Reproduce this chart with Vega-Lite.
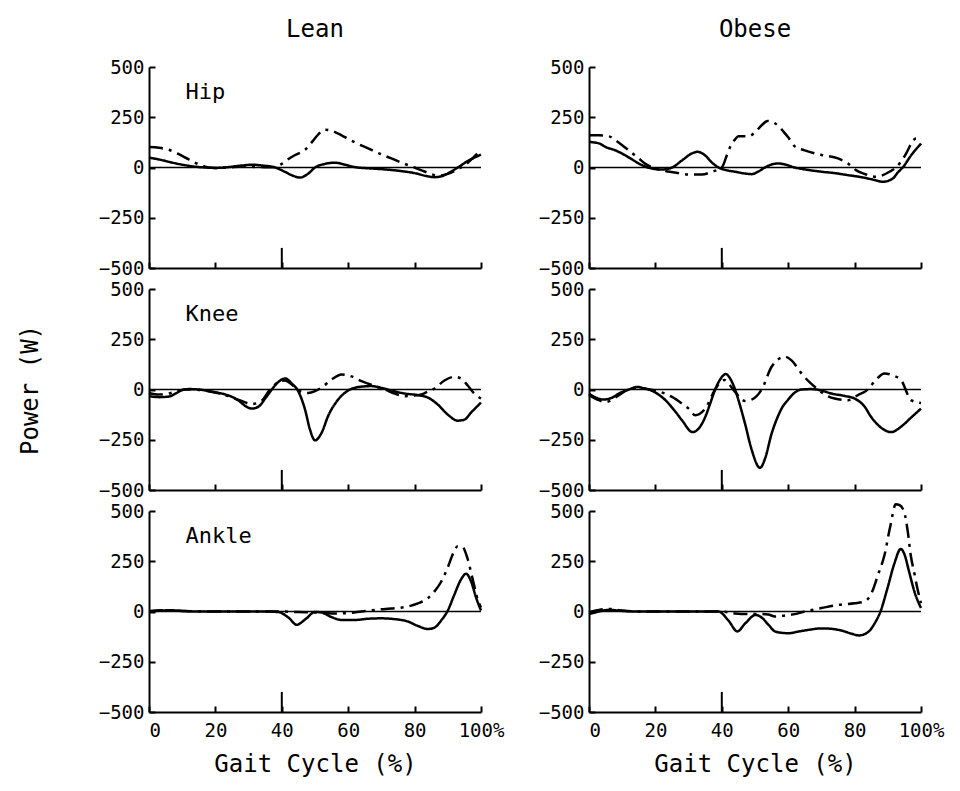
{
  "$schema": "https://vega.github.io/schema/vega-lite/v6.json",
  "background": "white",
  "padding": {"left": 18, "top": 18, "right": 5, "bottom": 5},
  "datasets": {
    "curves": [
      {"group":"Lean","joint":"Hip","series":"A","pct":0,"power":49},{"group":"Lean","joint":"Hip","series":"A","pct":3,"power":40},{"group":"Lean","joint":"Hip","series":"A","pct":6,"power":28},{"group":"Lean","joint":"Hip","series":"A","pct":10,"power":14},{"group":"Lean","joint":"Hip","series":"A","pct":14,"power":4},{"group":"Lean","joint":"Hip","series":"A","pct":17,"power":0},{"group":"Lean","joint":"Hip","series":"A","pct":20,"power":-2},{"group":"Lean","joint":"Hip","series":"A","pct":24,"power":2},{"group":"Lean","joint":"Hip","series":"A","pct":28,"power":10},{"group":"Lean","joint":"Hip","series":"A","pct":31,"power":14},{"group":"Lean","joint":"Hip","series":"A","pct":34,"power":10},{"group":"Lean","joint":"Hip","series":"A","pct":38,"power":0},{"group":"Lean","joint":"Hip","series":"A","pct":41,"power":-22},{"group":"Lean","joint":"Hip","series":"A","pct":43.5,"power":-42},{"group":"Lean","joint":"Hip","series":"A","pct":45.5,"power":-50},{"group":"Lean","joint":"Hip","series":"A","pct":48,"power":-30},{"group":"Lean","joint":"Hip","series":"A","pct":50,"power":0},{"group":"Lean","joint":"Hip","series":"A","pct":53,"power":18},{"group":"Lean","joint":"Hip","series":"A","pct":56,"power":24},{"group":"Lean","joint":"Hip","series":"A","pct":59,"power":14},{"group":"Lean","joint":"Hip","series":"A","pct":62,"power":2},{"group":"Lean","joint":"Hip","series":"A","pct":66,"power":-4},{"group":"Lean","joint":"Hip","series":"A","pct":70,"power":-8},{"group":"Lean","joint":"Hip","series":"A","pct":75,"power":-16},{"group":"Lean","joint":"Hip","series":"A","pct":80,"power":-28},{"group":"Lean","joint":"Hip","series":"A","pct":84,"power":-44},{"group":"Lean","joint":"Hip","series":"A","pct":86,"power":-48},{"group":"Lean","joint":"Hip","series":"A","pct":88,"power":-44},{"group":"Lean","joint":"Hip","series":"A","pct":91,"power":-20},{"group":"Lean","joint":"Hip","series":"A","pct":93,"power":0},{"group":"Lean","joint":"Hip","series":"A","pct":96,"power":32},{"group":"Lean","joint":"Hip","series":"A","pct":100,"power":64},
      {"group":"Lean","joint":"Hip","series":"B","pct":0,"power":102},{"group":"Lean","joint":"Hip","series":"B","pct":3,"power":98},{"group":"Lean","joint":"Hip","series":"B","pct":6,"power":88},{"group":"Lean","joint":"Hip","series":"B","pct":9,"power":66},{"group":"Lean","joint":"Hip","series":"B","pct":12,"power":40},{"group":"Lean","joint":"Hip","series":"B","pct":15,"power":16},{"group":"Lean","joint":"Hip","series":"B","pct":17.5,"power":2},{"group":"Lean","joint":"Hip","series":"B","pct":20,"power":-3},{"group":"Lean","joint":"Hip","series":"B","pct":24,"power":0},{"group":"Lean","joint":"Hip","series":"B","pct":28,"power":5},{"group":"Lean","joint":"Hip","series":"B","pct":32,"power":3},{"group":"Lean","joint":"Hip","series":"B","pct":36,"power":1},{"group":"Lean","joint":"Hip","series":"B","pct":38,"power":2},{"group":"Lean","joint":"Hip","series":"B","pct":40,"power":18},{"group":"Lean","joint":"Hip","series":"B","pct":42,"power":42},{"group":"Lean","joint":"Hip","series":"B","pct":44,"power":62},{"group":"Lean","joint":"Hip","series":"B","pct":47,"power":88},{"group":"Lean","joint":"Hip","series":"B","pct":49,"power":125},{"group":"Lean","joint":"Hip","series":"B","pct":51,"power":165},{"group":"Lean","joint":"Hip","series":"B","pct":53,"power":188},{"group":"Lean","joint":"Hip","series":"B","pct":55,"power":183},{"group":"Lean","joint":"Hip","series":"B","pct":58,"power":160},{"group":"Lean","joint":"Hip","series":"B","pct":62,"power":125},{"group":"Lean","joint":"Hip","series":"B","pct":66,"power":95},{"group":"Lean","joint":"Hip","series":"B","pct":70,"power":65},{"group":"Lean","joint":"Hip","series":"B","pct":73,"power":45},{"group":"Lean","joint":"Hip","series":"B","pct":77,"power":18},{"group":"Lean","joint":"Hip","series":"B","pct":80,"power":0},{"group":"Lean","joint":"Hip","series":"B","pct":83,"power":-20},{"group":"Lean","joint":"Hip","series":"B","pct":87,"power":-40},{"group":"Lean","joint":"Hip","series":"B","pct":90,"power":-32},{"group":"Lean","joint":"Hip","series":"B","pct":93,"power":-8},{"group":"Lean","joint":"Hip","series":"B","pct":95,"power":10},{"group":"Lean","joint":"Hip","series":"B","pct":98,"power":55},{"group":"Lean","joint":"Hip","series":"B","pct":100,"power":88},
      {"group":"Lean","joint":"Knee","series":"A","pct":0,"power":-33},{"group":"Lean","joint":"Knee","series":"A","pct":3,"power":-38},{"group":"Lean","joint":"Knee","series":"A","pct":6,"power":-35},{"group":"Lean","joint":"Knee","series":"A","pct":8,"power":-20},{"group":"Lean","joint":"Knee","series":"A","pct":10,"power":-3},{"group":"Lean","joint":"Knee","series":"A","pct":12,"power":2},{"group":"Lean","joint":"Knee","series":"A","pct":15,"power":0},{"group":"Lean","joint":"Knee","series":"A","pct":18,"power":-8},{"group":"Lean","joint":"Knee","series":"A","pct":21,"power":-17},{"group":"Lean","joint":"Knee","series":"A","pct":24,"power":-30},{"group":"Lean","joint":"Knee","series":"A","pct":27,"power":-55},{"group":"Lean","joint":"Knee","series":"A","pct":29,"power":-82},{"group":"Lean","joint":"Knee","series":"A","pct":31,"power":-95},{"group":"Lean","joint":"Knee","series":"A","pct":33,"power":-85},{"group":"Lean","joint":"Knee","series":"A","pct":35,"power":-45},{"group":"Lean","joint":"Knee","series":"A","pct":37,"power":0},{"group":"Lean","joint":"Knee","series":"A","pct":39,"power":38},{"group":"Lean","joint":"Knee","series":"A","pct":41,"power":55},{"group":"Lean","joint":"Knee","series":"A","pct":43,"power":30},{"group":"Lean","joint":"Knee","series":"A","pct":45,"power":-10},{"group":"Lean","joint":"Knee","series":"A","pct":47,"power":-100},{"group":"Lean","joint":"Knee","series":"A","pct":48.5,"power":-200},{"group":"Lean","joint":"Knee","series":"A","pct":50,"power":-253},{"group":"Lean","joint":"Knee","series":"A","pct":52,"power":-215},{"group":"Lean","joint":"Knee","series":"A","pct":54,"power":-130},{"group":"Lean","joint":"Knee","series":"A","pct":56.5,"power":-60},{"group":"Lean","joint":"Knee","series":"A","pct":60,"power":-5},{"group":"Lean","joint":"Knee","series":"A","pct":63,"power":12},{"group":"Lean","joint":"Knee","series":"A","pct":67,"power":17},{"group":"Lean","joint":"Knee","series":"A","pct":70,"power":8},{"group":"Lean","joint":"Knee","series":"A","pct":73,"power":-5},{"group":"Lean","joint":"Knee","series":"A","pct":77,"power":-20},{"group":"Lean","joint":"Knee","series":"A","pct":81,"power":-28},{"group":"Lean","joint":"Knee","series":"A","pct":84,"power":-40},{"group":"Lean","joint":"Knee","series":"A","pct":87,"power":-75},{"group":"Lean","joint":"Knee","series":"A","pct":90,"power":-125},{"group":"Lean","joint":"Knee","series":"A","pct":93,"power":-155},{"group":"Lean","joint":"Knee","series":"A","pct":95,"power":-150},{"group":"Lean","joint":"Knee","series":"A","pct":97,"power":-115},{"group":"Lean","joint":"Knee","series":"A","pct":100,"power":-65},
      {"group":"Lean","joint":"Knee","series":"B","pct":0,"power":-17},{"group":"Lean","joint":"Knee","series":"B","pct":3,"power":-25},{"group":"Lean","joint":"Knee","series":"B","pct":6,"power":-20},{"group":"Lean","joint":"Knee","series":"B","pct":9,"power":-5},{"group":"Lean","joint":"Knee","series":"B","pct":11,"power":0},{"group":"Lean","joint":"Knee","series":"B","pct":15,"power":-2},{"group":"Lean","joint":"Knee","series":"B","pct":19,"power":-12},{"group":"Lean","joint":"Knee","series":"B","pct":23,"power":-28},{"group":"Lean","joint":"Knee","series":"B","pct":27,"power":-52},{"group":"Lean","joint":"Knee","series":"B","pct":31,"power":-72},{"group":"Lean","joint":"Knee","series":"B","pct":34,"power":-55},{"group":"Lean","joint":"Knee","series":"B","pct":36,"power":-10},{"group":"Lean","joint":"Knee","series":"B","pct":38,"power":25},{"group":"Lean","joint":"Knee","series":"B","pct":41,"power":45},{"group":"Lean","joint":"Knee","series":"B","pct":43,"power":25},{"group":"Lean","joint":"Knee","series":"B","pct":45,"power":-5},{"group":"Lean","joint":"Knee","series":"B","pct":48,"power":-17},{"group":"Lean","joint":"Knee","series":"B","pct":50,"power":-8},{"group":"Lean","joint":"Knee","series":"B","pct":52,"power":10},{"group":"Lean","joint":"Knee","series":"B","pct":55,"power":50},{"group":"Lean","joint":"Knee","series":"B","pct":58,"power":75},{"group":"Lean","joint":"Knee","series":"B","pct":61,"power":65},{"group":"Lean","joint":"Knee","series":"B","pct":64,"power":42},{"group":"Lean","joint":"Knee","series":"B","pct":68,"power":17},{"group":"Lean","joint":"Knee","series":"B","pct":71,"power":0},{"group":"Lean","joint":"Knee","series":"B","pct":74,"power":-20},{"group":"Lean","joint":"Knee","series":"B","pct":77,"power":-33},{"group":"Lean","joint":"Knee","series":"B","pct":80,"power":-30},{"group":"Lean","joint":"Knee","series":"B","pct":82,"power":-25},{"group":"Lean","joint":"Knee","series":"B","pct":84,"power":-10},{"group":"Lean","joint":"Knee","series":"B","pct":86,"power":5},{"group":"Lean","joint":"Knee","series":"B","pct":89,"power":45},{"group":"Lean","joint":"Knee","series":"B","pct":92,"power":63},{"group":"Lean","joint":"Knee","series":"B","pct":94,"power":55},{"group":"Lean","joint":"Knee","series":"B","pct":96,"power":20},{"group":"Lean","joint":"Knee","series":"B","pct":98,"power":-20},{"group":"Lean","joint":"Knee","series":"B","pct":100,"power":-45},
      {"group":"Lean","joint":"Ankle","series":"A","pct":0,"power":0},{"group":"Lean","joint":"Ankle","series":"A","pct":4,"power":5},{"group":"Lean","joint":"Ankle","series":"A","pct":7,"power":6},{"group":"Lean","joint":"Ankle","series":"A","pct":10,"power":3},{"group":"Lean","joint":"Ankle","series":"A","pct":15,"power":0},{"group":"Lean","joint":"Ankle","series":"A","pct":25,"power":0},{"group":"Lean","joint":"Ankle","series":"A","pct":35,"power":0},{"group":"Lean","joint":"Ankle","series":"A","pct":39,"power":-3},{"group":"Lean","joint":"Ankle","series":"A","pct":42,"power":-30},{"group":"Lean","joint":"Ankle","series":"A","pct":44.5,"power":-66},{"group":"Lean","joint":"Ankle","series":"A","pct":47,"power":-40},{"group":"Lean","joint":"Ankle","series":"A","pct":50,"power":-2},{"group":"Lean","joint":"Ankle","series":"A","pct":52,"power":-5},{"group":"Lean","joint":"Ankle","series":"A","pct":55,"power":-28},{"group":"Lean","joint":"Ankle","series":"A","pct":58,"power":-42},{"group":"Lean","joint":"Ankle","series":"A","pct":62,"power":-42},{"group":"Lean","joint":"Ankle","series":"A","pct":66,"power":-36},{"group":"Lean","joint":"Ankle","series":"A","pct":70,"power":-34},{"group":"Lean","joint":"Ankle","series":"A","pct":74,"power":-38},{"group":"Lean","joint":"Ankle","series":"A","pct":78,"power":-50},{"group":"Lean","joint":"Ankle","series":"A","pct":81,"power":-72},{"group":"Lean","joint":"Ankle","series":"A","pct":84,"power":-87},{"group":"Lean","joint":"Ankle","series":"A","pct":86,"power":-80},{"group":"Lean","joint":"Ankle","series":"A","pct":88,"power":-45},{"group":"Lean","joint":"Ankle","series":"A","pct":90,"power":5},{"group":"Lean","joint":"Ankle","series":"A","pct":92,"power":85},{"group":"Lean","joint":"Ankle","series":"A","pct":94,"power":160},{"group":"Lean","joint":"Ankle","series":"A","pct":95.5,"power":188},{"group":"Lean","joint":"Ankle","series":"A","pct":97,"power":150},{"group":"Lean","joint":"Ankle","series":"A","pct":98.5,"power":70},{"group":"Lean","joint":"Ankle","series":"A","pct":100,"power":5},
      {"group":"Lean","joint":"Ankle","series":"B","pct":0,"power":2},{"group":"Lean","joint":"Ankle","series":"B","pct":5,"power":6},{"group":"Lean","joint":"Ankle","series":"B","pct":10,"power":3},{"group":"Lean","joint":"Ankle","series":"B","pct":20,"power":0},{"group":"Lean","joint":"Ankle","series":"B","pct":30,"power":0},{"group":"Lean","joint":"Ankle","series":"B","pct":40,"power":0},{"group":"Lean","joint":"Ankle","series":"B","pct":45,"power":-3},{"group":"Lean","joint":"Ankle","series":"B","pct":50,"power":-5},{"group":"Lean","joint":"Ankle","series":"B","pct":55,"power":-10},{"group":"Lean","joint":"Ankle","series":"B","pct":60,"power":-8},{"group":"Lean","joint":"Ankle","series":"B","pct":64,"power":0},{"group":"Lean","joint":"Ankle","series":"B","pct":68,"power":8},{"group":"Lean","joint":"Ankle","series":"B","pct":73,"power":15},{"group":"Lean","joint":"Ankle","series":"B","pct":78,"power":25},{"group":"Lean","joint":"Ankle","series":"B","pct":81,"power":40},{"group":"Lean","joint":"Ankle","series":"B","pct":84,"power":66},{"group":"Lean","joint":"Ankle","series":"B","pct":86,"power":100},{"group":"Lean","joint":"Ankle","series":"B","pct":88,"power":148},{"group":"Lean","joint":"Ankle","series":"B","pct":90,"power":220},{"group":"Lean","joint":"Ankle","series":"B","pct":91.5,"power":285},{"group":"Lean","joint":"Ankle","series":"B","pct":93,"power":325},{"group":"Lean","joint":"Ankle","series":"B","pct":94.5,"power":320},{"group":"Lean","joint":"Ankle","series":"B","pct":96,"power":260},{"group":"Lean","joint":"Ankle","series":"B","pct":97.5,"power":160},{"group":"Lean","joint":"Ankle","series":"B","pct":99,"power":60},{"group":"Lean","joint":"Ankle","series":"B","pct":100,"power":20},
      {"group":"Obese","joint":"Hip","series":"A","pct":0,"power":127},{"group":"Obese","joint":"Hip","series":"A","pct":3,"power":120},{"group":"Obese","joint":"Hip","series":"A","pct":5,"power":102},{"group":"Obese","joint":"Hip","series":"A","pct":8,"power":85},{"group":"Obese","joint":"Hip","series":"A","pct":10,"power":69},{"group":"Obese","joint":"Hip","series":"A","pct":13,"power":40},{"group":"Obese","joint":"Hip","series":"A","pct":15,"power":20},{"group":"Obese","joint":"Hip","series":"A","pct":17.7,"power":0},{"group":"Obese","joint":"Hip","series":"A","pct":20,"power":-8},{"group":"Obese","joint":"Hip","series":"A","pct":22,"power":-10},{"group":"Obese","joint":"Hip","series":"A","pct":25,"power":0},{"group":"Obese","joint":"Hip","series":"A","pct":28,"power":35},{"group":"Obese","joint":"Hip","series":"A","pct":31,"power":70},{"group":"Obese","joint":"Hip","series":"A","pct":32.7,"power":78},{"group":"Obese","joint":"Hip","series":"A","pct":35,"power":60},{"group":"Obese","joint":"Hip","series":"A","pct":37,"power":25},{"group":"Obese","joint":"Hip","series":"A","pct":39,"power":0},{"group":"Obese","joint":"Hip","series":"A","pct":41,"power":-12},{"group":"Obese","joint":"Hip","series":"A","pct":44,"power":-21},{"group":"Obese","joint":"Hip","series":"A","pct":47,"power":-30},{"group":"Obese","joint":"Hip","series":"A","pct":49,"power":-33},{"group":"Obese","joint":"Hip","series":"A","pct":51,"power":-20},{"group":"Obese","joint":"Hip","series":"A","pct":53,"power":0},{"group":"Obese","joint":"Hip","series":"A","pct":55,"power":15},{"group":"Obese","joint":"Hip","series":"A","pct":57,"power":20},{"group":"Obese","joint":"Hip","series":"A","pct":59,"power":15},{"group":"Obese","joint":"Hip","series":"A","pct":62,"power":0},{"group":"Obese","joint":"Hip","series":"A","pct":66,"power":-12},{"group":"Obese","joint":"Hip","series":"A","pct":70,"power":-21},{"group":"Obese","joint":"Hip","series":"A","pct":74,"power":-28},{"group":"Obese","joint":"Hip","series":"A","pct":78,"power":-38},{"group":"Obese","joint":"Hip","series":"A","pct":82,"power":-48},{"group":"Obese","joint":"Hip","series":"A","pct":86,"power":-62},{"group":"Obese","joint":"Hip","series":"A","pct":88.5,"power":-71},{"group":"Obese","joint":"Hip","series":"A","pct":91.5,"power":-55},{"group":"Obese","joint":"Hip","series":"A","pct":93,"power":-25},{"group":"Obese","joint":"Hip","series":"A","pct":94.5,"power":0},{"group":"Obese","joint":"Hip","series":"A","pct":97,"power":60},{"group":"Obese","joint":"Hip","series":"A","pct":100,"power":119},
      {"group":"Obese","joint":"Hip","series":"B","pct":0,"power":160},{"group":"Obese","joint":"Hip","series":"B","pct":3,"power":160},{"group":"Obese","joint":"Hip","series":"B","pct":6,"power":155},{"group":"Obese","joint":"Hip","series":"B","pct":8,"power":135},{"group":"Obese","joint":"Hip","series":"B","pct":10,"power":111},{"group":"Obese","joint":"Hip","series":"B","pct":12,"power":85},{"group":"Obese","joint":"Hip","series":"B","pct":15,"power":45},{"group":"Obese","joint":"Hip","series":"B","pct":17,"power":18},{"group":"Obese","joint":"Hip","series":"B","pct":19,"power":0},{"group":"Obese","joint":"Hip","series":"B","pct":23,"power":-17},{"group":"Obese","joint":"Hip","series":"B","pct":27,"power":-28},{"group":"Obese","joint":"Hip","series":"B","pct":30,"power":-35},{"group":"Obese","joint":"Hip","series":"B","pct":34,"power":-35},{"group":"Obese","joint":"Hip","series":"B","pct":37,"power":-21},{"group":"Obese","joint":"Hip","series":"B","pct":40,"power":0},{"group":"Obese","joint":"Hip","series":"B","pct":41.5,"power":60},{"group":"Obese","joint":"Hip","series":"B","pct":42.5,"power":102},{"group":"Obese","joint":"Hip","series":"B","pct":44,"power":140},{"group":"Obese","joint":"Hip","series":"B","pct":45,"power":155},{"group":"Obese","joint":"Hip","series":"B","pct":48,"power":155},{"group":"Obese","joint":"Hip","series":"B","pct":50,"power":175},{"group":"Obese","joint":"Hip","series":"B","pct":52,"power":210},{"group":"Obese","joint":"Hip","series":"B","pct":53.8,"power":231},{"group":"Obese","joint":"Hip","series":"B","pct":56,"power":220},{"group":"Obese","joint":"Hip","series":"B","pct":58,"power":190},{"group":"Obese","joint":"Hip","series":"B","pct":60,"power":150},{"group":"Obese","joint":"Hip","series":"B","pct":62,"power":105},{"group":"Obese","joint":"Hip","series":"B","pct":65,"power":85},{"group":"Obese","joint":"Hip","series":"B","pct":68,"power":70},{"group":"Obese","joint":"Hip","series":"B","pct":70.4,"power":61},{"group":"Obese","joint":"Hip","series":"B","pct":75,"power":45},{"group":"Obese","joint":"Hip","series":"B","pct":78,"power":20},{"group":"Obese","joint":"Hip","series":"B","pct":80.4,"power":-13},{"group":"Obese","joint":"Hip","series":"B","pct":83,"power":-32},{"group":"Obese","joint":"Hip","series":"B","pct":86.4,"power":-46},{"group":"Obese","joint":"Hip","series":"B","pct":88.5,"power":-38},{"group":"Obese","joint":"Hip","series":"B","pct":90.5,"power":-21},{"group":"Obese","joint":"Hip","series":"B","pct":92.5,"power":0},{"group":"Obese","joint":"Hip","series":"B","pct":95,"power":55},{"group":"Obese","joint":"Hip","series":"B","pct":98.5,"power":144},{"group":"Obese","joint":"Hip","series":"B","pct":100,"power":130},
      {"group":"Obese","joint":"Knee","series":"A","pct":0,"power":-20},{"group":"Obese","joint":"Knee","series":"A","pct":2,"power":-40},{"group":"Obese","joint":"Knee","series":"A","pct":4.5,"power":-50},{"group":"Obese","joint":"Knee","series":"A","pct":7,"power":-40},{"group":"Obese","joint":"Knee","series":"A","pct":9,"power":-20},{"group":"Obese","joint":"Knee","series":"A","pct":12,"power":0},{"group":"Obese","joint":"Knee","series":"A","pct":14.6,"power":13},{"group":"Obese","joint":"Knee","series":"A","pct":16,"power":8},{"group":"Obese","joint":"Knee","series":"A","pct":18,"power":0},{"group":"Obese","joint":"Knee","series":"A","pct":20,"power":-15},{"group":"Obese","joint":"Knee","series":"A","pct":23,"power":-53},{"group":"Obese","joint":"Knee","series":"A","pct":26,"power":-110},{"group":"Obese","joint":"Knee","series":"A","pct":28,"power":-153},{"group":"Obese","joint":"Knee","series":"A","pct":31.2,"power":-212},{"group":"Obese","joint":"Knee","series":"A","pct":33,"power":-195},{"group":"Obese","joint":"Knee","series":"A","pct":35,"power":-137},{"group":"Obese","joint":"Knee","series":"A","pct":36.5,"power":-70},{"group":"Obese","joint":"Knee","series":"A","pct":38,"power":0},{"group":"Obese","joint":"Knee","series":"A","pct":39.5,"power":50},{"group":"Obese","joint":"Knee","series":"A","pct":41.2,"power":77},{"group":"Obese","joint":"Knee","series":"A","pct":42.5,"power":55},{"group":"Obese","joint":"Knee","series":"A","pct":44,"power":0},{"group":"Obese","joint":"Knee","series":"A","pct":45.5,"power":-80},{"group":"Obese","joint":"Knee","series":"A","pct":47,"power":-170},{"group":"Obese","joint":"Knee","series":"A","pct":49,"power":-300},{"group":"Obese","joint":"Knee","series":"A","pct":51.5,"power":-390},{"group":"Obese","joint":"Knee","series":"A","pct":53,"power":-345},{"group":"Obese","joint":"Knee","series":"A","pct":55,"power":-220},{"group":"Obese","joint":"Knee","series":"A","pct":57,"power":-130},{"group":"Obese","joint":"Knee","series":"A","pct":58,"power":-95},{"group":"Obese","joint":"Knee","series":"A","pct":60,"power":-50},{"group":"Obese","joint":"Knee","series":"A","pct":62,"power":-15},{"group":"Obese","joint":"Knee","series":"A","pct":64,"power":0},{"group":"Obese","joint":"Knee","series":"A","pct":67,"power":2},{"group":"Obese","joint":"Knee","series":"A","pct":70,"power":-5},{"group":"Obese","joint":"Knee","series":"A","pct":73,"power":-20},{"group":"Obese","joint":"Knee","series":"A","pct":77,"power":-32},{"group":"Obese","joint":"Knee","series":"A","pct":80,"power":-45},{"group":"Obese","joint":"Knee","series":"A","pct":83,"power":-85},{"group":"Obese","joint":"Knee","series":"A","pct":85,"power":-137},{"group":"Obese","joint":"Knee","series":"A","pct":88,"power":-190},{"group":"Obese","joint":"Knee","series":"A","pct":91,"power":-212},{"group":"Obese","joint":"Knee","series":"A","pct":94,"power":-185},{"group":"Obese","joint":"Knee","series":"A","pct":97,"power":-140},{"group":"Obese","joint":"Knee","series":"A","pct":100,"power":-95},
      {"group":"Obese","joint":"Knee","series":"B","pct":0,"power":-28},{"group":"Obese","joint":"Knee","series":"B","pct":2.5,"power":-50},{"group":"Obese","joint":"Knee","series":"B","pct":5,"power":-62},{"group":"Obese","joint":"Knee","series":"B","pct":7,"power":-50},{"group":"Obese","joint":"Knee","series":"B","pct":9,"power":-28},{"group":"Obese","joint":"Knee","series":"B","pct":12,"power":0},{"group":"Obese","joint":"Knee","series":"B","pct":15,"power":5},{"group":"Obese","joint":"Knee","series":"B","pct":20,"power":-5},{"group":"Obese","joint":"Knee","series":"B","pct":25,"power":-37},{"group":"Obese","joint":"Knee","series":"B","pct":28,"power":-70},{"group":"Obese","joint":"Knee","series":"B","pct":30,"power":-95},{"group":"Obese","joint":"Knee","series":"B","pct":32,"power":-128},{"group":"Obese","joint":"Knee","series":"B","pct":35,"power":-95},{"group":"Obese","joint":"Knee","series":"B","pct":38,"power":0},{"group":"Obese","joint":"Knee","series":"B","pct":39.5,"power":35},{"group":"Obese","joint":"Knee","series":"B","pct":40.8,"power":47},{"group":"Obese","joint":"Knee","series":"B","pct":42.5,"power":20},{"group":"Obese","joint":"Knee","series":"B","pct":44,"power":-12},{"group":"Obese","joint":"Knee","series":"B","pct":47,"power":-57},{"group":"Obese","joint":"Knee","series":"B","pct":49,"power":-50},{"group":"Obese","joint":"Knee","series":"B","pct":52,"power":0},{"group":"Obese","joint":"Knee","series":"B","pct":55,"power":113},{"group":"Obese","joint":"Knee","series":"B","pct":57,"power":150},{"group":"Obese","joint":"Knee","series":"B","pct":59,"power":163},{"group":"Obese","joint":"Knee","series":"B","pct":61,"power":145},{"group":"Obese","joint":"Knee","series":"B","pct":64,"power":80},{"group":"Obese","joint":"Knee","series":"B","pct":66.5,"power":35},{"group":"Obese","joint":"Knee","series":"B","pct":69,"power":0},{"group":"Obese","joint":"Knee","series":"B","pct":71,"power":-25},{"group":"Obese","joint":"Knee","series":"B","pct":74,"power":-45},{"group":"Obese","joint":"Knee","series":"B","pct":78,"power":-53},{"group":"Obese","joint":"Knee","series":"B","pct":81,"power":-28},{"group":"Obese","joint":"Knee","series":"B","pct":84,"power":0},{"group":"Obese","joint":"Knee","series":"B","pct":86.5,"power":50},{"group":"Obese","joint":"Knee","series":"B","pct":89,"power":80},{"group":"Obese","joint":"Knee","series":"B","pct":91.5,"power":70},{"group":"Obese","joint":"Knee","series":"B","pct":94,"power":47},{"group":"Obese","joint":"Knee","series":"B","pct":97,"power":-53},{"group":"Obese","joint":"Knee","series":"B","pct":100,"power":-67},
      {"group":"Obese","joint":"Ankle","series":"A","pct":0,"power":-13},{"group":"Obese","joint":"Ankle","series":"A","pct":3,"power":0},{"group":"Obese","joint":"Ankle","series":"A","pct":6,"power":8},{"group":"Obese","joint":"Ankle","series":"A","pct":10,"power":3},{"group":"Obese","joint":"Ankle","series":"A","pct":15,"power":0},{"group":"Obese","joint":"Ankle","series":"A","pct":25,"power":0},{"group":"Obese","joint":"Ankle","series":"A","pct":35,"power":0},{"group":"Obese","joint":"Ankle","series":"A","pct":39,"power":0},{"group":"Obese","joint":"Ankle","series":"A","pct":42,"power":-45},{"group":"Obese","joint":"Ankle","series":"A","pct":44.7,"power":-99},{"group":"Obese","joint":"Ankle","series":"A","pct":47,"power":-60},{"group":"Obese","joint":"Ankle","series":"A","pct":50.2,"power":-17},{"group":"Obese","joint":"Ankle","series":"A","pct":52,"power":-30},{"group":"Obese","joint":"Ankle","series":"A","pct":54,"power":-65},{"group":"Obese","joint":"Ankle","series":"A","pct":56,"power":-99},{"group":"Obese","joint":"Ankle","series":"A","pct":58,"power":-106},{"group":"Obese","joint":"Ankle","series":"A","pct":60.2,"power":-108},{"group":"Obese","joint":"Ankle","series":"A","pct":63,"power":-100},{"group":"Obese","joint":"Ankle","series":"A","pct":66.3,"power":-91},{"group":"Obese","joint":"Ankle","series":"A","pct":70,"power":-84},{"group":"Obese","joint":"Ankle","series":"A","pct":73,"power":-86},{"group":"Obese","joint":"Ankle","series":"A","pct":76.3,"power":-96},{"group":"Obese","joint":"Ankle","series":"A","pct":79,"power":-110},{"group":"Obese","joint":"Ankle","series":"A","pct":81.3,"power":-119},{"group":"Obese","joint":"Ankle","series":"A","pct":84.3,"power":-99},{"group":"Obese","joint":"Ankle","series":"A","pct":86,"power":-60},{"group":"Obese","joint":"Ankle","series":"A","pct":87.8,"power":0},{"group":"Obese","joint":"Ankle","series":"A","pct":89.9,"power":116},{"group":"Obese","joint":"Ankle","series":"A","pct":92,"power":240},{"group":"Obese","joint":"Ankle","series":"A","pct":93.9,"power":311},{"group":"Obese","joint":"Ankle","series":"A","pct":95,"power":285},{"group":"Obese","joint":"Ankle","series":"A","pct":96.4,"power":199},{"group":"Obese","joint":"Ankle","series":"A","pct":98,"power":100},{"group":"Obese","joint":"Ankle","series":"A","pct":100,"power":17},
      {"group":"Obese","joint":"Ankle","series":"B","pct":0,"power":-3},{"group":"Obese","joint":"Ankle","series":"B","pct":3,"power":8},{"group":"Obese","joint":"Ankle","series":"B","pct":6,"power":13},{"group":"Obese","joint":"Ankle","series":"B","pct":10,"power":5},{"group":"Obese","joint":"Ankle","series":"B","pct":15,"power":0},{"group":"Obese","joint":"Ankle","series":"B","pct":25,"power":0},{"group":"Obese","joint":"Ankle","series":"B","pct":35,"power":0},{"group":"Obese","joint":"Ankle","series":"B","pct":40,"power":0},{"group":"Obese","joint":"Ankle","series":"B","pct":44,"power":-10},{"group":"Obese","joint":"Ankle","series":"B","pct":48,"power":-13},{"group":"Obese","joint":"Ankle","series":"B","pct":52,"power":-13},{"group":"Obese","joint":"Ankle","series":"B","pct":54,"power":-15},{"group":"Obese","joint":"Ankle","series":"B","pct":56,"power":-25},{"group":"Obese","joint":"Ankle","series":"B","pct":59,"power":-20},{"group":"Obese","joint":"Ankle","series":"B","pct":62,"power":-13},{"group":"Obese","joint":"Ankle","series":"B","pct":65,"power":0},{"group":"Obese","joint":"Ankle","series":"B","pct":70,"power":17},{"group":"Obese","joint":"Ankle","series":"B","pct":75,"power":33},{"group":"Obese","joint":"Ankle","series":"B","pct":80,"power":41},{"group":"Obese","joint":"Ankle","series":"B","pct":83,"power":50},{"group":"Obese","joint":"Ankle","series":"B","pct":85.3,"power":99},{"group":"Obese","joint":"Ankle","series":"B","pct":87,"power":180},{"group":"Obese","joint":"Ankle","series":"B","pct":89,"power":281},{"group":"Obese","joint":"Ankle","series":"B","pct":90.7,"power":420},{"group":"Obese","joint":"Ankle","series":"B","pct":92.4,"power":533},{"group":"Obese","joint":"Ankle","series":"B","pct":93.5,"power":530},{"group":"Obese","joint":"Ankle","series":"B","pct":94.9,"power":497},{"group":"Obese","joint":"Ankle","series":"B","pct":96,"power":400},{"group":"Obese","joint":"Ankle","series":"B","pct":96.9,"power":281},{"group":"Obese","joint":"Ankle","series":"B","pct":98,"power":190},{"group":"Obese","joint":"Ankle","series":"B","pct":98.9,"power":116},{"group":"Obese","joint":"Ankle","series":"B","pct":100,"power":41}
    ]
  },
  "columns": 2,
  "bounds": "flush",
  "spacing": {"row": 21, "column": 108},
  "concat": [
    {
      "width": 332, "height": 201,
      "title": {"text": "Lean"},
      "layer": [
        {"data": {"values": [{}]}, "mark": {"type": "rule", "color": "black", "strokeWidth": 1.5}, "encoding": {"y": {"datum": 0, "type": "quantitative"}}},
        {"data": {"values": [{}]}, "mark": {"type": "rule", "color": "black", "strokeWidth": 2}, "encoding": {"x": {"datum": 40, "type": "quantitative"}, "y": {"datum": -500, "type": "quantitative"}, "y2": {"datum": -400}}},
        {"data": {"name": "curves"}, "transform": [{"filter": "datum.group === 'Lean' && datum.joint === 'Hip'"}],
         "mark": {"type": "line", "interpolate": "monotone", "strokeWidth": 2.5, "color": "black"},
         "encoding": {
           "x": {"field": "pct", "type": "quantitative", "scale": {"domain": [0, 100], "nice": false}, "axis": {"title": null, "values": [0,10,20,30,40,50,60,70,80,90,100], "labels": false}},
           "y": {"field": "power", "type": "quantitative", "scale": {"domain": [-500, 500], "nice": false}, "axis": {"title": null, "values": [-500,-375,-250,-125,0,125,250,375,500], "labelExpr": "datum.value % 250 === 0 ? datum.label : ''"}},
           "strokeDash": {"field": "series", "type": "nominal", "scale": {"domain": ["A", "B"], "range": [[1, 0], [14, 6, 3, 6]]}, "legend": null}
         }},
        {"data": {"values": [{}]}, "mark": {"type": "text", "align": "left", "baseline": "middle", "fontSize": 22, "font": "DejaVu Sans Mono", "color": "black"}, "encoding": {"x": {"datum": 11, "type": "quantitative"}, "y": {"datum": 378, "type": "quantitative"}, "text": {"value": "Hip"}}}
      ]
    },
    {
      "width": 332, "height": 201,
      "title": {"text": "Obese"},
      "layer": [
        {"data": {"values": [{}]}, "mark": {"type": "rule", "color": "black", "strokeWidth": 1.5}, "encoding": {"y": {"datum": 0, "type": "quantitative"}}},
        {"data": {"values": [{}]}, "mark": {"type": "rule", "color": "black", "strokeWidth": 2}, "encoding": {"x": {"datum": 40, "type": "quantitative"}, "y": {"datum": -500, "type": "quantitative"}, "y2": {"datum": -400}}},
        {"data": {"name": "curves"}, "transform": [{"filter": "datum.group === 'Obese' && datum.joint === 'Hip'"}],
         "mark": {"type": "line", "interpolate": "monotone", "strokeWidth": 2.5, "color": "black"},
         "encoding": {
           "x": {"field": "pct", "type": "quantitative", "scale": {"domain": [0, 100], "nice": false}, "axis": {"title": null, "values": [0,10,20,30,40,50,60,70,80,90,100], "labels": false}},
           "y": {"field": "power", "type": "quantitative", "scale": {"domain": [-500, 500], "nice": false}, "axis": {"title": null, "values": [-500,-375,-250,-125,0,125,250,375,500], "labelExpr": "datum.value % 250 === 0 ? datum.label : ''"}},
           "strokeDash": {"field": "series", "type": "nominal", "scale": {"domain": ["A", "B"], "range": [[1, 0], [14, 6, 3, 6]]}, "legend": null}
         }}
      ]
    },
    {
      "width": 332, "height": 201,
      "layer": [
        {"data": {"values": [{}]}, "mark": {"type": "rule", "color": "black", "strokeWidth": 1.5}, "encoding": {"y": {"datum": 0, "type": "quantitative"}}},
        {"data": {"values": [{}]}, "mark": {"type": "rule", "color": "black", "strokeWidth": 2}, "encoding": {"x": {"datum": 40, "type": "quantitative"}, "y": {"datum": -500, "type": "quantitative"}, "y2": {"datum": -400}}},
        {"data": {"name": "curves"}, "transform": [{"filter": "datum.group === 'Lean' && datum.joint === 'Knee'"}],
         "mark": {"type": "line", "interpolate": "monotone", "strokeWidth": 2.5, "color": "black"},
         "encoding": {
           "x": {"field": "pct", "type": "quantitative", "scale": {"domain": [0, 100], "nice": false}, "axis": {"title": null, "values": [0,10,20,30,40,50,60,70,80,90,100], "labels": false}},
           "y": {"field": "power", "type": "quantitative", "scale": {"domain": [-500, 500], "nice": false}, "axis": {"title": "Power (W)", "titlePadding": 56, "values": [-500,-375,-250,-125,0,125,250,375,500], "labelExpr": "datum.value % 250 === 0 ? datum.label : ''"}},
           "strokeDash": {"field": "series", "type": "nominal", "scale": {"domain": ["A", "B"], "range": [[1, 0], [14, 6, 3, 6]]}, "legend": null}
         }},
        {"data": {"values": [{}]}, "mark": {"type": "text", "align": "left", "baseline": "middle", "fontSize": 22, "font": "DejaVu Sans Mono", "color": "black"}, "encoding": {"x": {"datum": 11, "type": "quantitative"}, "y": {"datum": 378, "type": "quantitative"}, "text": {"value": "Knee"}}}
      ]
    },
    {
      "width": 332, "height": 201,
      "layer": [
        {"data": {"values": [{}]}, "mark": {"type": "rule", "color": "black", "strokeWidth": 1.5}, "encoding": {"y": {"datum": 0, "type": "quantitative"}}},
        {"data": {"values": [{}]}, "mark": {"type": "rule", "color": "black", "strokeWidth": 2}, "encoding": {"x": {"datum": 40, "type": "quantitative"}, "y": {"datum": -500, "type": "quantitative"}, "y2": {"datum": -400}}},
        {"data": {"name": "curves"}, "transform": [{"filter": "datum.group === 'Obese' && datum.joint === 'Knee'"}],
         "mark": {"type": "line", "interpolate": "monotone", "strokeWidth": 2.5, "color": "black"},
         "encoding": {
           "x": {"field": "pct", "type": "quantitative", "scale": {"domain": [0, 100], "nice": false}, "axis": {"title": null, "values": [0,10,20,30,40,50,60,70,80,90,100], "labels": false}},
           "y": {"field": "power", "type": "quantitative", "scale": {"domain": [-500, 500], "nice": false}, "axis": {"title": null, "values": [-500,-375,-250,-125,0,125,250,375,500], "labelExpr": "datum.value % 250 === 0 ? datum.label : ''"}},
           "strokeDash": {"field": "series", "type": "nominal", "scale": {"domain": ["A", "B"], "range": [[1, 0], [14, 6, 3, 6]]}, "legend": null}
         }}
      ]
    },
    {
      "width": 332, "height": 201,
      "layer": [
        {"data": {"values": [{}]}, "mark": {"type": "rule", "color": "black", "strokeWidth": 1.5}, "encoding": {"y": {"datum": 0, "type": "quantitative"}}},
        {"data": {"values": [{}]}, "mark": {"type": "rule", "color": "black", "strokeWidth": 2}, "encoding": {"x": {"datum": 40, "type": "quantitative"}, "y": {"datum": -500, "type": "quantitative"}, "y2": {"datum": -400}}},
        {"data": {"name": "curves"}, "transform": [{"filter": "datum.group === 'Lean' && datum.joint === 'Ankle'"}],
         "mark": {"type": "line", "interpolate": "monotone", "strokeWidth": 2.5, "color": "black"},
         "encoding": {
           "x": {"field": "pct", "type": "quantitative", "scale": {"domain": [0, 100], "nice": false}, "axis": {"title": "Gait Cycle (%)", "values": [0,10,20,30,40,50,60,70,80,90,100], "labelExpr": "datum.value % 20 === 0 ? (datum.value === 100 ? '100%' : datum.label) : ''", "labelAlign": {"condition": {"test": "datum.value === 0", "value": "left"}, "value": "center"}}},
           "y": {"field": "power", "type": "quantitative", "scale": {"domain": [-500, 500], "nice": false}, "axis": {"title": null, "values": [-500,-375,-250,-125,0,125,250,375,500], "labelExpr": "datum.value % 250 === 0 ? datum.label : ''"}},
           "strokeDash": {"field": "series", "type": "nominal", "scale": {"domain": ["A", "B"], "range": [[1, 0], [14, 6, 3, 6]]}, "legend": null}
         }},
        {"data": {"values": [{}]}, "mark": {"type": "text", "align": "left", "baseline": "middle", "fontSize": 22, "font": "DejaVu Sans Mono", "color": "black"}, "encoding": {"x": {"datum": 11, "type": "quantitative"}, "y": {"datum": 378, "type": "quantitative"}, "text": {"value": "Ankle"}}}
      ]
    },
    {
      "width": 332, "height": 201,
      "layer": [
        {"data": {"values": [{}]}, "mark": {"type": "rule", "color": "black", "strokeWidth": 1.5}, "encoding": {"y": {"datum": 0, "type": "quantitative"}}},
        {"data": {"values": [{}]}, "mark": {"type": "rule", "color": "black", "strokeWidth": 2}, "encoding": {"x": {"datum": 40, "type": "quantitative"}, "y": {"datum": -500, "type": "quantitative"}, "y2": {"datum": -400}}},
        {"data": {"name": "curves"}, "transform": [{"filter": "datum.group === 'Obese' && datum.joint === 'Ankle'"}],
         "mark": {"type": "line", "interpolate": "monotone", "strokeWidth": 2.5, "color": "black"},
         "encoding": {
           "x": {"field": "pct", "type": "quantitative", "scale": {"domain": [0, 100], "nice": false}, "axis": {"title": "Gait Cycle (%)", "values": [0,10,20,30,40,50,60,70,80,90,100], "labelExpr": "datum.value % 20 === 0 ? (datum.value === 100 ? '100%' : datum.label) : ''", "labelAlign": {"condition": {"test": "datum.value === 0", "value": "left"}, "value": "center"}}},
           "y": {"field": "power", "type": "quantitative", "scale": {"domain": [-500, 500], "nice": false}, "axis": {"title": null, "values": [-500,-375,-250,-125,0,125,250,375,500], "labelExpr": "datum.value % 250 === 0 ? datum.label : ''"}},
           "strokeDash": {"field": "series", "type": "nominal", "scale": {"domain": ["A", "B"], "range": [[1, 0], [14, 6, 3, 6]]}, "legend": null}
         }}
      ]
    }
  ],
  "config": {
    "font": "DejaVu Sans Mono",
    "view": {"stroke": null},
    "axis": {
      "domainColor": "black", "domainWidth": 2, "tickColor": "black", "tickWidth": 2, "tickSize": -6,
      "labelColor": "black", "labelFont": "DejaVu Sans Mono", "labelFontSize": 19, "labelOverlap": false, "labelFlush": false,
      "grid": false, "titleFont": "DejaVu Sans Mono", "titleFontSize": 24, "titleFontWeight": "normal", "titleColor": "black"
    },
    "axisY": {"labelPadding": 11},
    "axisX": {"labelPadding": 15, "titlePadding": 12},
    "title": {"font": "DejaVu Sans Mono", "fontSize": 24, "fontWeight": "normal", "color": "black", "anchor": "middle", "offset": 16}
  }
}
